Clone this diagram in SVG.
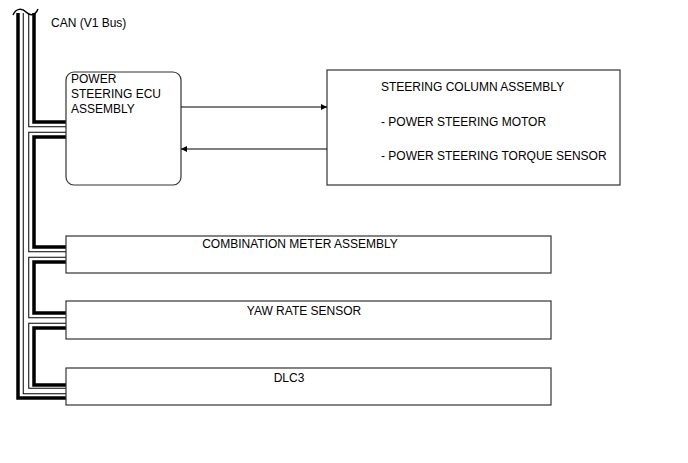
<svg xmlns="http://www.w3.org/2000/svg" width="688" height="463" viewBox="0 0 688 463">
<defs>
<style>
.box{fill:#fff;stroke:#333;stroke-width:1.2}
.t{font-family:"Liberation Sans",Arial,sans-serif;font-size:12px;fill:#000}
.thick{fill:none;stroke:#000;stroke-width:3.5;stroke-linejoin:miter}
.dblo{fill:none;stroke:#000;stroke-width:6.5;stroke-linejoin:miter}
.dbli{fill:none;stroke:#fff;stroke-width:4.5;stroke-linejoin:miter}
.arr{stroke:#000;stroke-width:1.2;fill:none}
</style>
<marker id="ah" viewBox="0 0 10 10" refX="10" refY="5" markerWidth="11" markerHeight="6" markerUnits="userSpaceOnUse" orient="auto">
<path d="M0,0 L10,5 L0,10 z" fill="#000"/>
</marker>
</defs>
<rect width="688" height="463" fill="#fff"/>
<g id="bus">
<path class="thick" d="M18,13 V398 H66"/>
<path class="dblo" d="M26,13 V391 H66 M26,129.5 H66 M26,254.5 H66 M26,320.5 H66"/>
<path class="dbli" d="M26,13 V391 H66 M26,129.5 H66 M26,254.5 H66 M26,320.5 H66"/>
<path class="thick" d="M34,13 V122 H66 M66,137 H34 V247 H66 M66,262 H34 V313 H66 M66,328 H34 V385 H66"/>
<path d="M13,15 C16,8 22,8 26,12 C30,16 35,16 38,9" fill="none" stroke="#000" stroke-width="1.5"/>
<text class="t" x="51" y="27">CAN (V1 Bus)</text>
</g>
<g id="ecu">
<rect class="box" x="66" y="72" width="115" height="113" rx="8"/>
<text class="t" x="71" y="83">POWER</text>
<text class="t" x="71" y="98">STEERING ECU</text>
<text class="t" x="71" y="113">ASSEMBLY</text>
</g>
<g id="column">
<rect class="box" x="327" y="70" width="293" height="115"/>
<text class="t" x="381" y="91">STEERING COLUMN ASSEMBLY</text>
<text class="t" x="381" y="126">- POWER STEERING MOTOR</text>
<text class="t" x="381" y="160">- POWER STEERING TORQUE SENSOR</text>
</g>
<g id="meter">
<rect class="box" x="66" y="236" width="485" height="37"/>
<text class="t" x="300" y="248" text-anchor="middle">COMBINATION METER ASSEMBLY</text>
</g>
<g id="yaw">
<rect class="box" x="66" y="301" width="485" height="38"/>
<text class="t" x="304" y="315" text-anchor="middle">YAW RATE SENSOR</text>
</g>
<g id="dlc3">
<rect class="box" x="66" y="368" width="485" height="37"/>
<text class="t" x="289" y="382" text-anchor="middle">DLC3</text>
</g>
<g id="connectors">
<line class="arr" x1="181" y1="107" x2="327" y2="107" marker-end="url(#ah)"/>
<line class="arr" x1="327" y1="149" x2="181" y2="149" marker-end="url(#ah)"/>
</g>
</svg>
